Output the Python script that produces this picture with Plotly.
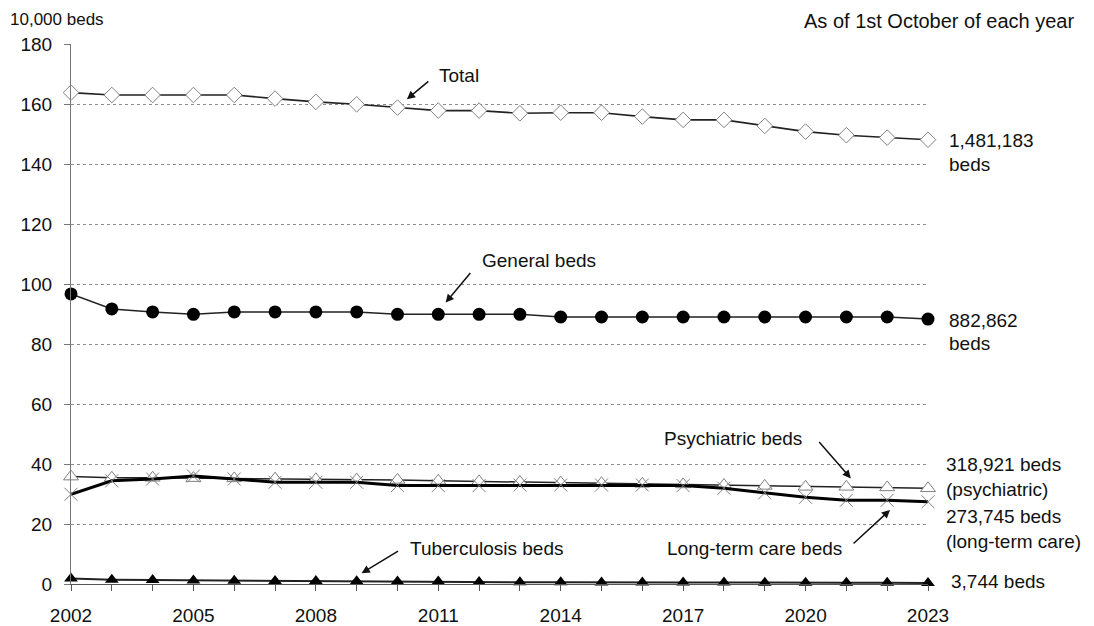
import plotly.graph_objects as go

years = list(range(2002, 2024))
total = [163.8, 163.0, 163.0, 163.0, 163.0, 161.8, 160.7, 159.9, 158.8, 157.8, 157.8,
         156.9, 157.1, 157.1, 155.8, 154.7, 154.7, 152.7, 150.8, 149.6, 148.8, 148.1]
general = [96.7, 91.7, 90.7, 89.9, 90.7, 90.7, 90.7, 90.7, 89.9, 89.9, 89.9,
           89.9, 89.0, 89.0, 89.0, 89.0, 89.0, 89.0, 89.0, 89.0, 89.0, 88.3]
psychiatric = [35.8, 35.4, 35.4, 35.3, 35.2, 35.1, 34.9, 34.8, 34.7, 34.4, 34.2,
               34.0, 33.8, 33.6, 33.4, 33.2, 33.0, 32.7, 32.4, 32.4, 32.2, 31.9]
longterm = [29.9, 34.4, 35.0, 36.0, 35.0, 33.9, 33.9, 33.9, 32.8, 32.8, 32.8,
            33.0, 33.0, 33.0, 33.0, 32.8, 31.9, 30.4, 28.9, 27.9, 27.9, 27.4]
tuberculosis = [1.8, 1.4, 1.3, 1.2, 1.1, 1.0, 1.0, 0.9, 0.8, 0.8, 0.7,
                0.6, 0.6, 0.5, 0.5, 0.5, 0.5, 0.4, 0.4, 0.4, 0.4, 0.37]

tick_years = years
tick_labels = [str(y) if (y - 2002) % 3 == 0 else "" for y in years]
y_ticks = list(range(0, 181, 20))

FONT = "Liberation Sans, Arial, sans-serif"

# page has an 8px body margin; plot area in page pixels: x 71..928, y 44..584
PL, PR, PT, PB = 71, 928, 44, 584
PW, PH = PR - PL, PB - PT
W, H = 1086, 618

def px(xp):
    return (xp - PL) / PW

def py(yp):
    return (PB - yp) / PH

fig = go.Figure()

fig.add_trace(go.Scatter(
    x=years, y=total, mode="lines+markers", name="Total",
    line=dict(color="#222222", width=1.6),
    marker=dict(symbol="diamond", size=12, color="white",
                line=dict(color="#808080", width=1)),
    cliponaxis=False))
fig.add_trace(go.Scatter(
    x=years, y=general, mode="lines+markers", name="General beds",
    line=dict(color="#222222", width=1.5),
    marker=dict(symbol="circle", size=13, color="black"),
    cliponaxis=False))
fig.add_trace(go.Scatter(
    x=years, y=psychiatric, mode="lines+markers", name="Psychiatric beds",
    line=dict(color="#222222", width=1.5),
    marker=dict(symbol="triangle-up", size=13, color="white",
                line=dict(color="#808080", width=1)),
    cliponaxis=False))
fig.add_trace(go.Scatter(
    x=years, y=longterm, mode="lines+markers", name="Long-term care beds",
    line=dict(color="black", width=3),
    marker=dict(symbol="x-thin", size=13, color="#808080",
                line=dict(color="#808080", width=1)),
    cliponaxis=False))
fig.add_trace(go.Scatter(
    x=years, y=tuberculosis, mode="lines+markers", name="Tuberculosis beds",
    line=dict(color="#222222", width=2),
    marker=dict(symbol="triangle-up", size=12, color="black"),
    cliponaxis=False))

annotations = []

def txt(xp, yp, s, xanchor="left", size=19):
    annotations.append(dict(x=px(xp), y=py(yp), xref="paper", yref="paper", text=s,
                            showarrow=False, xanchor=xanchor, yanchor="middle",
                            font=dict(family=FONT, size=size, color="#111111")))

def arrow(x, y, ax, ay):
    annotations.append(dict(x=x, y=y, xref="x", yref="y", text="", showarrow=True,
                            ax=ax, ay=ay, axref="pixel", ayref="pixel",
                            arrowhead=2, arrowsize=1.1, arrowwidth=1.5,
                            arrowcolor="#111111"))

# series labels with arrows
txt(437, 75, "Total")
arrow(2010.23, 161.6, 23, -19)
txt(480, 260, "General beds")
arrow(2011.18, 93.8, 26, -31)
txt(662, 438, "Psychiatric beds")
arrow(2021.11, 35.2, -33, -38)
txt(665, 548, "Long-term care beds")
arrow(2022.07, 24.7, -38, 35)
txt(408, 548, "Tuberculosis beds")
arrow(2009.12, 3.6, 38, -23)

# right-hand value labels
txt(947, 140, "1,481,183")
txt(947, 164, "beds")
txt(947, 320, "882,862")
txt(947, 343, "beds")
txt(944, 464, "318,921 beds")
txt(944, 489, "(psychiatric)")
txt(944, 516, "273,745 beds")
txt(944, 541, "(long-term care)")
txt(949, 581, "3,744 beds")

# header texts
txt(8, 20, "10,000 beds", size=17)
txt(1076, 21, "As of 1st October of each year", xanchor="right", size=20)

fig.update_layout(
    width=W, height=H,
    margin=dict(l=PL - 8, r=W - (PR - 8), t=PT - 8, b=H - (PB - 8)),
    paper_bgcolor="white", plot_bgcolor="white",
    showlegend=False,
    font=dict(family=FONT, size=19, color="#111111"),
    annotations=annotations,
    xaxis=dict(range=[2002, 2023], tickvals=tick_years, ticktext=tick_labels,
               ticks="outside", ticklen=6, tickcolor="#555555", tickwidth=1,
               showline=True, linecolor="#555555", linewidth=1.2,
               showgrid=False, zeroline=False, automargin=False,
               ticklabelstandoff=8,
               tickfont=dict(family=FONT, size=19, color="#111111")),
    yaxis=dict(range=[0, 180], tickvals=y_ticks,
               ticks="outside", ticklen=6, tickcolor="#777777", tickwidth=1,
               showline=True, linecolor="#777777", linewidth=1,
               showgrid=True, gridcolor="#8c8c8c", gridwidth=1, griddash="dot",
               zeroline=False, ticklabelstandoff=8, automargin=False,
               tickfont=dict(family=FONT, size=19, color="#111111")),
)

fig.write_html("out.html")
